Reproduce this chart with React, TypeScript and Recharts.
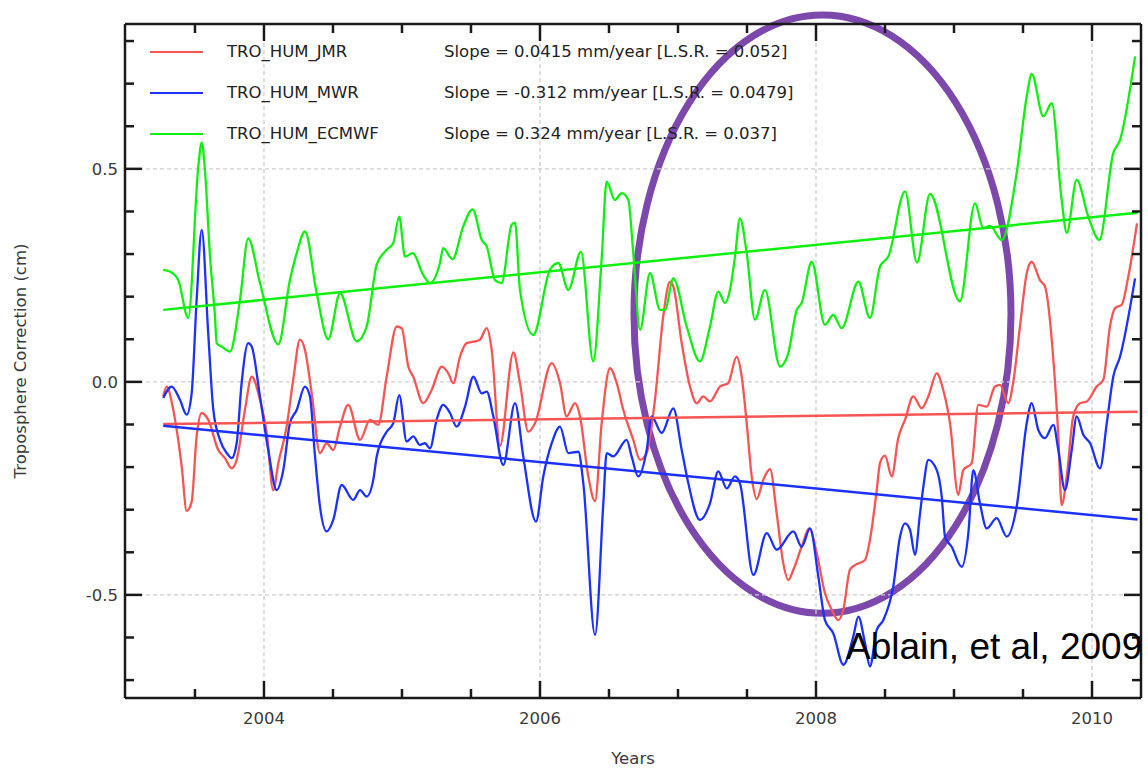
import { LineChart, Line, XAxis, YAxis, ReferenceLine, ReferenceArea, Legend } from 'recharts';

const seriesNames = ['TRO_HUM_JMR', 'TRO_HUM_MWR', 'TRO_HUM_ECMWF'];
const slopeLabels = [
  'Slope = 0.0415 mm/year [L.S.R. = 0.052]',
  'Slope = -0.312 mm/year [L.S.R. = 0.0479]',
  'Slope = 0.324 mm/year [L.S.R. = 0.037]',
];

const jmrYears = [
  2003.270, 2003.295, 2003.343, 2003.404, 2003.440, 2003.476, 2003.512, 2003.549, 2003.596, 2003.669,
  2003.717, 2003.766, 2003.802, 2003.862, 2003.911, 2003.971, 2004.020, 2004.067, 2004.104, 2004.164,
  2004.212, 2004.261, 2004.297, 2004.346, 2004.406, 2004.454, 2004.502, 2004.551, 2004.611, 2004.696,
  2004.768, 2004.828, 2004.889, 2004.962, 2004.998, 2005.046, 2005.082, 2005.154, 2005.215, 2005.288,
  2005.336, 2005.372, 2005.420, 2005.469, 2005.529, 2005.565, 2005.614, 2005.650, 2005.710, 2005.807,
  2005.855, 2005.915, 2005.964, 2006.085, 2006.145, 2006.193, 2006.254, 2006.290, 2006.350, 2006.399,
  2006.447, 2006.507, 2006.556, 2006.604, 2006.676, 2006.725, 2006.773, 2006.833, 2006.893, 2006.942,
  2006.966, 2007.027, 2007.087, 2007.136, 2007.183, 2007.232, 2007.304, 2007.364, 2007.425, 2007.462,
  2007.498, 2007.534, 2007.570, 2007.618, 2007.667, 2007.715, 2007.763, 2007.799, 2007.836, 2007.896,
  2007.951, 2008.005, 2008.065, 2008.114, 2008.162, 2008.198, 2008.246, 2008.283, 2008.355, 2008.391,
  2008.440, 2008.464, 2008.500, 2008.549, 2008.596, 2008.645, 2008.705, 2008.766, 2008.814, 2008.875,
  2008.922, 2008.971, 2009.031, 2009.067, 2009.128, 2009.176, 2009.237, 2009.297, 2009.333, 2009.393,
  2009.430, 2009.478, 2009.527, 2009.563, 2009.623, 2009.659, 2009.720, 2009.756, 2009.780, 2009.817,
  2009.864, 2009.913, 2009.962, 2010.034, 2010.082, 2010.130, 2010.167, 2010.215, 2010.263, 2010.326,
];
const jmrValues = [
  -0.034, -0.011, -0.066, -0.199, -0.303, -0.281, -0.128, -0.073, -0.089, -0.160,
  -0.179, -0.203, -0.183, -0.066, 0.012, -0.042, -0.120, -0.254, -0.191, -0.105,
  0.005, 0.099, 0.075, -0.027, -0.167, -0.144, -0.160, -0.105, -0.054, -0.136,
  -0.089, -0.101, 0.012, 0.130, 0.126, 0.036, 0.012, -0.050, -0.019, 0.036,
  0.020, -0.003, 0.059, 0.091, 0.095, 0.099, 0.126, 0.075, -0.150, 0.069,
  -0.003, -0.117, -0.097, 0.044, -0.003, -0.081, -0.050, -0.081, -0.222, -0.280,
  -0.097, 0.032, -0.003, -0.066, -0.136, -0.183, -0.167, -0.042, 0.153, 0.235,
  0.224, 0.091, -0.011, -0.050, -0.034, -0.046, -0.011, -0.003, 0.059, 0.012,
  -0.097, -0.222, -0.275, -0.230, -0.205, -0.308, -0.426, -0.465, -0.441, -0.387,
  -0.344, -0.402, -0.496, -0.535, -0.559, -0.535, -0.441, -0.430, -0.418, -0.371,
  -0.254, -0.190, -0.173, -0.222, -0.132, -0.089, -0.034, -0.062, -0.034, 0.020,
  -0.019, -0.097, -0.265, -0.207, -0.191, -0.054, -0.058, -0.011, -0.007, -0.050,
  0.001, 0.130, 0.255, 0.282, 0.239, 0.224, 0.052, -0.128, -0.289, -0.222,
  -0.081, -0.050, -0.046, -0.011, 0.005, 0.130, 0.173, 0.181, 0.247, 0.372,
];

const mwrYears = [
  2003.270, 2003.331, 2003.391, 2003.440, 2003.476, 2003.512, 2003.549, 2003.596, 2003.633, 2003.681,
  2003.730, 2003.766, 2003.802, 2003.838, 2003.886, 2003.911, 2003.971, 2004.031, 2004.092, 2004.140,
  2004.188, 2004.237, 2004.297, 2004.333, 2004.370, 2004.406, 2004.454, 2004.502, 2004.563, 2004.647,
  2004.696, 2004.744, 2004.792, 2004.817, 2004.889, 2004.937, 2004.980, 2005.034, 2005.082, 2005.130,
  2005.167, 2005.203, 2005.251, 2005.299, 2005.348, 2005.396, 2005.457, 2005.517, 2005.578, 2005.614,
  2005.662, 2005.734, 2005.819, 2005.879, 2005.971, 2006.024, 2006.085, 2006.145, 2006.205, 2006.278,
  2006.314, 2006.399, 2006.459, 2006.483, 2006.531, 2006.628, 2006.664, 2006.712, 2006.773, 2006.809,
  2006.882, 2006.966, 2007.027, 2007.075, 2007.159, 2007.232, 2007.292, 2007.353, 2007.413, 2007.449,
  2007.546, 2007.643, 2007.715, 2007.836, 2007.896, 2007.957, 2008.017, 2008.065, 2008.125, 2008.198,
  2008.270, 2008.307, 2008.355, 2008.391, 2008.440, 2008.488, 2008.560, 2008.609, 2008.645, 2008.681,
  2008.717, 2008.754, 2008.778, 2008.814, 2008.875, 2008.911, 2008.935, 2008.983, 2009.056, 2009.104,
  2009.140, 2009.188, 2009.237, 2009.309, 2009.382, 2009.454, 2009.527, 2009.563, 2009.611, 2009.659,
  2009.720, 2009.756, 2009.804, 2009.853, 2009.889, 2009.937, 2009.986, 2010.058, 2010.107, 2010.154,
  2010.203, 2010.312,
];
const mwrValues = [
  -0.038, -0.011, -0.042, -0.077, -0.027, 0.192, 0.357, 0.114, -0.066, -0.136,
  -0.167, -0.179, -0.144, -0.003, 0.091, 0.083, -0.034, -0.160, -0.254, -0.207,
  -0.097, -0.066, -0.011, -0.034, -0.175, -0.293, -0.351, -0.324, -0.242, -0.277,
  -0.254, -0.269, -0.230, -0.175, -0.117, -0.097, -0.031, -0.140, -0.128, -0.148,
  -0.144, -0.156, -0.089, -0.054, -0.073, -0.105, -0.058, 0.012, -0.027, -0.023,
  -0.081, -0.195, -0.050, -0.175, -0.328, -0.222, -0.144, -0.105, -0.167, -0.164,
  -0.238, -0.594, -0.285, -0.167, -0.175, -0.136, -0.175, -0.222, -0.160, -0.081,
  -0.120, -0.062, -0.160, -0.238, -0.324, -0.285, -0.210, -0.250, -0.222, -0.238,
  -0.453, -0.355, -0.394, -0.351, -0.387, -0.344, -0.457, -0.559, -0.590, -0.664,
  -0.598, -0.551, -0.613, -0.668, -0.582, -0.559, -0.480, -0.363, -0.332, -0.347,
  -0.406, -0.308, -0.246, -0.183, -0.207, -0.269, -0.363, -0.387, -0.434, -0.355,
  -0.207, -0.285, -0.344, -0.320, -0.363, -0.293, -0.097, -0.050, -0.113, -0.132,
  -0.101, -0.160, -0.254, -0.160, -0.081, -0.124, -0.144, -0.203, -0.097, 0.012,
  0.059, 0.243,
];

const ecmwfYears = [
  2003.270, 2003.319, 2003.379, 2003.451, 2003.524, 2003.549, 2003.572, 2003.609, 2003.645, 2003.657,
  2003.693, 2003.754, 2003.826, 2003.886, 2003.971, 2004.104, 2004.188, 2004.237, 2004.297, 2004.382,
  2004.466, 2004.551, 2004.672, 2004.744, 2004.817, 2004.889, 2004.937, 2004.980, 2005.022, 2005.078,
  2005.154, 2005.203, 2005.275, 2005.299, 2005.366, 2005.444, 2005.512, 2005.578, 2005.614, 2005.674,
  2005.722, 2005.795, 2005.819, 2005.855, 2005.951, 2006.072, 2006.133, 2006.205, 2006.297, 2006.386,
  2006.447, 2006.483, 2006.543, 2006.592, 2006.640, 2006.676, 2006.725, 2006.797, 2006.870, 2006.906,
  2006.966, 2007.063, 2007.159, 2007.232, 2007.292, 2007.341, 2007.377, 2007.413, 2007.449, 2007.498,
  2007.558, 2007.630, 2007.739, 2007.799, 2007.860, 2007.896, 2007.969, 2008.065, 2008.125, 2008.186,
  2008.307, 2008.391, 2008.464, 2008.524, 2008.645, 2008.732, 2008.826, 2009.043, 2009.152, 2009.212,
  2009.261, 2009.346, 2009.454, 2009.527, 2009.563, 2009.647, 2009.708, 2009.780, 2009.817, 2009.889,
  2009.973, 2010.053, 2010.154, 2010.203, 2010.312,
];
const ecmwfValues = [
  0.263, 0.259, 0.239, 0.150, 0.505, 0.562, 0.498, 0.294, 0.153, 0.091,
  0.083, 0.071, 0.192, 0.337, 0.232, 0.088, 0.239, 0.302, 0.353, 0.208,
  0.100, 0.208, 0.095, 0.130, 0.275, 0.310, 0.326, 0.388, 0.294, 0.302,
  0.251, 0.232, 0.279, 0.314, 0.288, 0.365, 0.405, 0.333, 0.318, 0.239,
  0.232, 0.369, 0.374, 0.216, 0.110, 0.263, 0.279, 0.216, 0.305, 0.048,
  0.290, 0.470, 0.427, 0.443, 0.427, 0.302, 0.122, 0.255, 0.169, 0.169,
  0.243, 0.130, 0.048, 0.130, 0.212, 0.185, 0.216, 0.294, 0.384, 0.302,
  0.146, 0.216, 0.036, 0.067, 0.169, 0.185, 0.282, 0.134, 0.157, 0.126,
  0.235, 0.150, 0.271, 0.294, 0.447, 0.280, 0.441, 0.189, 0.419, 0.361,
  0.366, 0.333, 0.490, 0.670, 0.723, 0.623, 0.654, 0.427, 0.350, 0.474,
  0.388, 0.333, 0.537, 0.568, 0.764,
];

// least squares fits, read at both ends
const trendYears = [2003.27, 2010.33];
const jmrTrend = [-0.099, -0.070];
const mwrTrend = [-0.103, -0.323];
const ecmwfTrend = [0.169, 0.397];

const xTicks = [2003.5, 2004, 2004.5, 2005, 2005.5, 2006, 2006.5, 2007, 2007.5, 2008, 2008.5, 2009, 2009.5, 2010];
const xMajor = [2004, 2006, 2008, 2010];
const yTicks = [-0.7, -0.6, -0.5, -0.4, -0.3, -0.2, -0.1, 0, 0.1, 0.2, 0.3, 0.4, 0.5, 0.6, 0.7, 0.8];
const yMajor = [-0.5, 0, 0.5];

// circled region (years / cm)
const highlightYears = [2006.681, 2009.413];
const highlightValues = [-0.543, 0.861];

const FONT = '"DejaVu Sans", Verdana, sans-serif';
const RED = '#f75454';
const BLUE = '#1c30ff';
const GREEN = '#10f010';
const PURPLE = '#7d48ac';
const AXIS = '#1a1a1a';
const LABEL = '#3a3a3a';

const toPoints = (years: number[], values: number[]) =>
  years.map((year, i) => ({ year, value: values[i] }));

const isMajor = (list: number[], v: number) => list.some((m) => Math.abs(m - v) < 1e-6);

function BottomTick({ x, y, payload }: any) {
  const major = isMajor(xMajor, payload.value);
  return (
    <g>
      <line x1={x} x2={x} y1={y} y2={y - (major ? 17 : 9)} stroke={AXIS} strokeWidth={2.5} />
      {major && (
        <text x={x} y={y + 26} textAnchor="middle" fontSize={16.5} fontFamily={FONT} fill={LABEL}>
          {payload.value}
        </text>
      )}
    </g>
  );
}

function TopTick({ x, y, payload }: any) {
  const major = isMajor(xMajor, payload.value);
  return <line x1={x} x2={x} y1={y} y2={y + (major ? 17 : 9)} stroke={AXIS} strokeWidth={2.5} />;
}

function LeftTick({ x, y, payload }: any) {
  const major = isMajor(yMajor, payload.value);
  return (
    <g>
      <line x1={x} x2={x + (major ? 17 : 9)} y1={y} y2={y} stroke={AXIS} strokeWidth={2.5} />
      {major && (
        <text x={x - 7} y={y + 6} textAnchor="end" fontSize={16.5} fontFamily={FONT} fill={LABEL}>
          {Number(payload.value).toFixed(1)}
        </text>
      )}
    </g>
  );
}

function RightTick({ x, y, payload }: any) {
  const major = isMajor(yMajor, payload.value);
  return <line x1={x} x2={x - (major ? 17 : 9)} y1={y} y2={y} stroke={AXIS} strokeWidth={2.5} />;
}

const renderEllipse = (props: any) => {
  const { x, y, width, height } = props;
  return (
    <ellipse
      cx={x + width / 2}
      cy={y + height / 2}
      rx={Math.abs(width) / 2}
      ry={Math.abs(height) / 2}
      fill="none"
      stroke={PURPLE}
      strokeWidth={7}
    />
  );
};

const renderLegend = (props: any) => {
  const items = (props.payload || [])
    .filter((e: any) => seriesNames.includes(e.value))
    .sort((a: any, b: any) => seriesNames.indexOf(a.value) - seriesNames.indexOf(b.value));
  return (
    <div style={{ fontFamily: FONT, fontSize: 16.5, color: '#222' }}>
      {items.map((entry: any) => (
        <div key={entry.value} style={{ display: 'flex', alignItems: 'center', height: 41, whiteSpace: 'nowrap' }}>
          <span style={{ display: 'inline-block', width: 53, borderTop: `2.5px solid ${entry.color}` }} />
          <span style={{ display: 'inline-block', width: 217, marginLeft: 24 }}>{entry.value}</span>
          <span>{slopeLabels[seriesNames.indexOf(entry.value)]}</span>
        </div>
      ))}
    </div>
  );
};

const axisLine = { stroke: AXIS, strokeWidth: 2.5 };
const xDomain: [number, number] = [2002.993, 2010.355];
const yDomain: [number, number] = [-0.742, 0.840];

export default function App() {
  return (
    <div style={{ position: 'absolute', left: 0, top: 0, width: 1148, height: 770, background: '#fff', fontFamily: FONT }}>
      <LineChart width={1148} height={770} margin={{ top: 4, right: 3, bottom: 42, left: 65 }}>
        <XAxis
          type="number"
          dataKey="year"
          domain={xDomain}
          allowDataOverflow
          ticks={xTicks}
          interval={0}
          height={30}
          tickSize={0}
          tickMargin={0}
          tickLine={false}
          axisLine={axisLine}
          tick={<BottomTick />}
        />
        <XAxis
          xAxisId="top"
          orientation="top"
          type="number"
          dataKey="year"
          domain={xDomain}
          allowDataOverflow
          ticks={xTicks}
          interval={0}
          height={20}
          tickSize={0}
          tickMargin={0}
          tickLine={false}
          axisLine={axisLine}
          tick={<TopTick />}
        />
        <YAxis
          type="number"
          domain={yDomain}
          allowDataOverflow
          ticks={yTicks}
          interval={0}
          width={60}
          tickSize={0}
          tickMargin={0}
          tickLine={false}
          axisLine={axisLine}
          tick={<LeftTick />}
        />
        <YAxis
          yAxisId="right"
          orientation="right"
          type="number"
          domain={yDomain}
          allowDataOverflow
          ticks={yTicks}
          interval={0}
          width={4}
          tickSize={0}
          tickMargin={0}
          tickLine={false}
          axisLine={axisLine}
          tick={<RightTick />}
        />

        {xMajor.map((yr) => (
          <ReferenceLine key={`gx${yr}`} x={yr} stroke="#cdcdcd" strokeWidth={1.3} strokeDasharray="4 3" />
        ))}
        {yMajor.map((v) => (
          <ReferenceLine key={`gy${v}`} y={v} stroke="#cdcdcd" strokeWidth={1.3} strokeDasharray="4 3" />
        ))}

        <Line data={toPoints(jmrYears, jmrValues)} dataKey="value" name={seriesNames[0]} type="monotone"
          stroke={RED} strokeWidth={2.3} dot={false} isAnimationActive={false} />
        <Line data={toPoints(mwrYears, mwrValues)} dataKey="value" name={seriesNames[1]} type="monotone"
          stroke={BLUE} strokeWidth={2.3} dot={false} isAnimationActive={false} />
        <Line data={toPoints(ecmwfYears, ecmwfValues)} dataKey="value" name={seriesNames[2]} type="monotone"
          stroke={GREEN} strokeWidth={2.3} dot={false} isAnimationActive={false} />

        <Line data={toPoints(trendYears, jmrTrend)} dataKey="value" type="linear" legendType="none"
          stroke={RED} strokeWidth={2.5} dot={false} isAnimationActive={false} />
        <Line data={toPoints(trendYears, mwrTrend)} dataKey="value" type="linear" legendType="none"
          stroke={BLUE} strokeWidth={2.5} dot={false} isAnimationActive={false} />
        <Line data={toPoints(trendYears, ecmwfTrend)} dataKey="value" type="linear" legendType="none"
          stroke={GREEN} strokeWidth={2.5} dot={false} isAnimationActive={false} />

        <ReferenceArea
          x1={highlightYears[0]}
          x2={highlightYears[1]}
          y1={highlightValues[0]}
          y2={highlightValues[1]}
          ifOverflow="visible"
          shape={renderEllipse}
        />

        <Legend
          layout="vertical"
          align="center"
          verticalAlign="middle"
          content={renderLegend}
          wrapperStyle={{ left: 150, top: 31, width: 720 }}
        />
      </LineChart>

      <div style={{ position: 'absolute', left: 533, top: 751, width: 200, textAlign: 'center', fontSize: 16.5, lineHeight: '16px', color: LABEL }}>
        Years
      </div>
      <div
        style={{
          position: 'absolute', left: 21 - 160, top: 361 - 10, width: 320, height: 20, lineHeight: '20px',
          textAlign: 'center', fontSize: 16.5, color: LABEL, transform: 'rotate(-90deg)',
        }}
      >
        Troposphere Correction (cm)
      </div>
      <div
        style={{
          position: 'absolute', left: 846, top: 629, fontSize: 37, lineHeight: '36px', whiteSpace: 'nowrap',
          fontFamily: '"Liberation Sans", Arial, sans-serif', color: '#000',
        }}
      >
        Ablain, et al, 2009
      </div>
    </div>
  );
}
